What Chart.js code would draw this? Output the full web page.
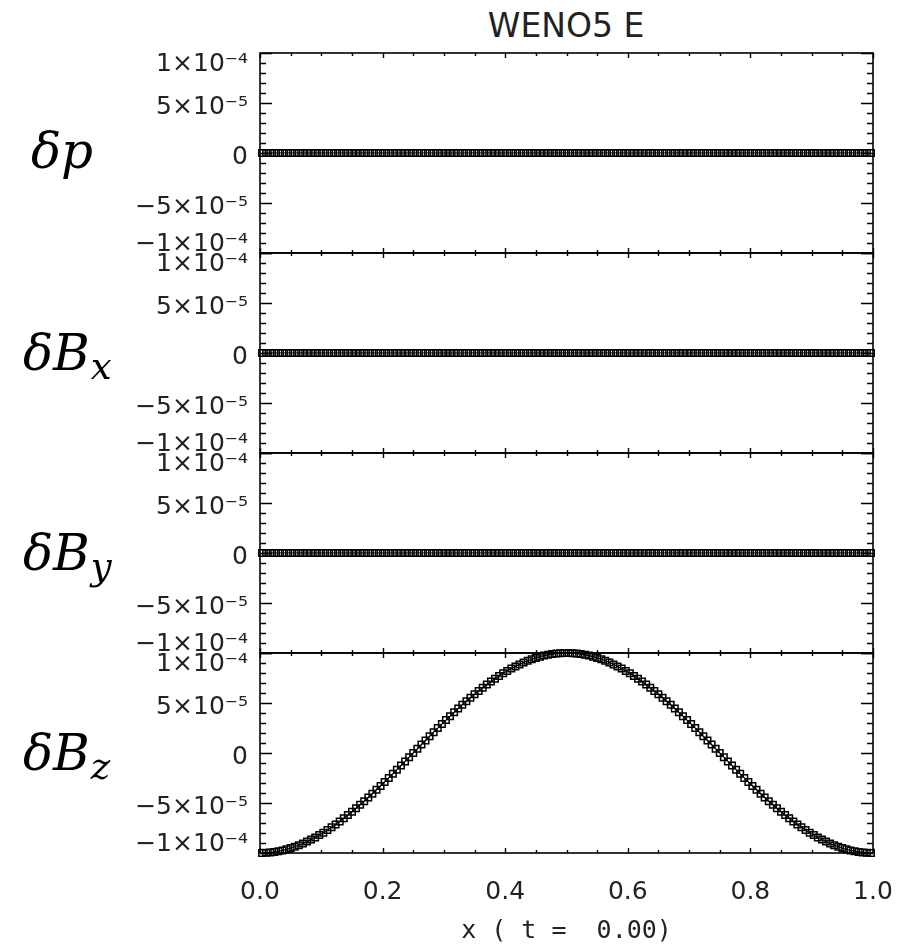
<!DOCTYPE html>
<html><head><meta charset="utf-8">
<script src="https://cdn.jsdelivr.net/npm/chart.js@4"></script>
<style>
html,body{margin:0;padding:0;background:#fff;}
#wrap{position:relative;width:907px;height:947px;overflow:hidden;background:#fff;}
canvas{position:absolute;left:0;}
.lab{position:absolute;font-family:"DejaVu Serif";font-style:italic;font-size:50px;line-height:50px;color:#000;white-space:nowrap;z-index:2;}
.lab sub{font-size:0.74em;vertical-align:-0.24em;line-height:0;margin-left:1px;}
#title{position:absolute;left:416px;width:300px;text-align:center;top:9px;font-family:"DejaVu Sans";font-size:33px;line-height:33px;color:#222;white-space:nowrap;}
</style></head>
<body><div id="wrap">
<div id="title">WENO5 E</div>
<canvas id="c0" width="960" height="275" style="top:23px"></canvas>
<canvas id="c1" width="960" height="275" style="top:223px"></canvas>
<canvas id="c2" width="960" height="275" style="top:423px"></canvas>
<canvas id="c3" width="960" height="324" style="top:623px"></canvas>
<div class="lab" style="left:31px;top:126px">δp</div>
<div class="lab" style="left:23px;top:328px">δB<sub>x</sub></div>
<div class="lab" style="left:23px;top:528px">δB<sub>y</sub></div>
<div class="lab" style="left:23px;top:728px">δB<sub>z</sub></div>
</div>
<script>
// ---- data (x positions of the grid cells) ----
const xValues = [
0.0033,0.01,0.0167,0.0233,0.03,0.0367,0.0433,0.05,0.0567,0.0633,0.07,0.0767,0.0833,0.09,0.0967,
0.1033,0.11,0.1167,0.1233,0.13,0.1367,0.1433,0.15,0.1567,0.1633,0.17,0.1767,0.1833,0.19,0.1967,
0.2033,0.21,0.2167,0.2233,0.23,0.2367,0.2433,0.25,0.2567,0.2633,0.27,0.2767,0.2833,0.29,0.2967,
0.3033,0.31,0.3167,0.3233,0.33,0.3367,0.3433,0.35,0.3567,0.3633,0.37,0.3767,0.3833,0.39,0.3967,
0.4033,0.41,0.4167,0.4233,0.43,0.4367,0.4433,0.45,0.4567,0.4633,0.47,0.4767,0.4833,0.49,0.4967,
0.5033,0.51,0.5167,0.5233,0.53,0.5367,0.5433,0.55,0.5567,0.5633,0.57,0.5767,0.5833,0.59,0.5967,
0.6033,0.61,0.6167,0.6233,0.63,0.6367,0.6433,0.65,0.6567,0.6633,0.67,0.6767,0.6833,0.69,0.6967,
0.7033,0.71,0.7167,0.7233,0.73,0.7367,0.7433,0.75,0.7567,0.7633,0.77,0.7767,0.7833,0.79,0.7967,
0.8033,0.81,0.8167,0.8233,0.83,0.8367,0.8433,0.85,0.8567,0.8633,0.87,0.8767,0.8833,0.89,0.8967,
0.9033,0.91,0.9167,0.9233,0.93,0.9367,0.9433,0.95,0.9567,0.9633,0.97,0.9767,0.9833,0.99,0.9967
];
const dpValues = [
0,0,0,0,0,0,0,0,0,0,0,0,0,0,0,0,0,0,0,0,0,0,0,0,0,0,0,0,0,0,
0,0,0,0,0,0,0,0,0,0,0,0,0,0,0,0,0,0,0,0,0,0,0,0,0,0,0,0,0,0,
0,0,0,0,0,0,0,0,0,0,0,0,0,0,0,0,0,0,0,0,0,0,0,0,0,0,0,0,0,0,
0,0,0,0,0,0,0,0,0,0,0,0,0,0,0,0,0,0,0,0,0,0,0,0,0,0,0,0,0,0,
0,0,0,0,0,0,0,0,0,0,0,0,0,0,0,0,0,0,0,0,0,0,0,0,0,0,0,0,0,0
];
const dBxValues = [
0,0,0,0,0,0,0,0,0,0,0,0,0,0,0,0,0,0,0,0,0,0,0,0,0,0,0,0,0,0,
0,0,0,0,0,0,0,0,0,0,0,0,0,0,0,0,0,0,0,0,0,0,0,0,0,0,0,0,0,0,
0,0,0,0,0,0,0,0,0,0,0,0,0,0,0,0,0,0,0,0,0,0,0,0,0,0,0,0,0,0,
0,0,0,0,0,0,0,0,0,0,0,0,0,0,0,0,0,0,0,0,0,0,0,0,0,0,0,0,0,0,
0,0,0,0,0,0,0,0,0,0,0,0,0,0,0,0,0,0,0,0,0,0,0,0,0,0,0,0,0,0
];
const dByValues = [
0,0,0,0,0,0,0,0,0,0,0,0,0,0,0,0,0,0,0,0,0,0,0,0,0,0,0,0,0,0,
0,0,0,0,0,0,0,0,0,0,0,0,0,0,0,0,0,0,0,0,0,0,0,0,0,0,0,0,0,0,
0,0,0,0,0,0,0,0,0,0,0,0,0,0,0,0,0,0,0,0,0,0,0,0,0,0,0,0,0,0,
0,0,0,0,0,0,0,0,0,0,0,0,0,0,0,0,0,0,0,0,0,0,0,0,0,0,0,0,0,0,
0,0,0,0,0,0,0,0,0,0,0,0,0,0,0,0,0,0,0,0,0,0,0,0,0,0,0,0,0,0
];
const dBzValues = [
-1.000e-4,-9.98e-5,-9.95e-5,-9.89e-5,-9.82e-5,-9.74e-5,-9.63e-5,-9.51e-5,-9.37e-5,-9.22e-5,
-9.05e-5,-8.86e-5,-8.66e-5,-8.44e-5,-8.21e-5,-7.97e-5,-7.71e-5,-7.43e-5,-7.14e-5,-6.85e-5,
-6.53e-5,-6.21e-5,-5.88e-5,-5.53e-5,-5.18e-5,-4.82e-5,-4.45e-5,-4.07e-5,-3.68e-5,-3.29e-5,
-2.89e-5,-2.49e-5,-2.08e-5,-1.67e-5,-1.25e-5,-8.4e-6,-4.2e-6,0,
4.2e-6,8.4e-6,1.25e-5,1.67e-5,2.08e-5,2.49e-5,2.89e-5,3.29e-5,3.68e-5,4.07e-5,
4.45e-5,4.82e-5,5.18e-5,5.53e-5,5.88e-5,6.21e-5,6.53e-5,6.85e-5,7.14e-5,7.43e-5,
7.71e-5,7.97e-5,8.21e-5,8.44e-5,8.66e-5,8.86e-5,9.05e-5,9.22e-5,9.37e-5,9.51e-5,
9.63e-5,9.74e-5,9.82e-5,9.89e-5,9.95e-5,9.98e-5,1.000e-4,
1.000e-4,9.98e-5,9.95e-5,9.89e-5,9.82e-5,9.74e-5,9.63e-5,9.51e-5,9.37e-5,9.22e-5,
9.05e-5,8.86e-5,8.66e-5,8.44e-5,8.21e-5,7.97e-5,7.71e-5,7.43e-5,7.14e-5,6.85e-5,
6.53e-5,6.21e-5,5.88e-5,5.53e-5,5.18e-5,4.82e-5,4.45e-5,4.07e-5,3.68e-5,3.29e-5,
2.89e-5,2.49e-5,2.08e-5,1.67e-5,1.25e-5,8.4e-6,4.2e-6,
0,-4.2e-6,-8.4e-6,-1.25e-5,-1.67e-5,-2.08e-5,-2.49e-5,-2.89e-5,-3.29e-5,-3.68e-5,
-4.07e-5,-4.45e-5,-4.82e-5,-5.18e-5,-5.53e-5,-5.88e-5,-6.21e-5,-6.53e-5,-6.85e-5,-7.14e-5,
-7.43e-5,-7.71e-5,-7.97e-5,-8.21e-5,-8.44e-5,-8.66e-5,-8.86e-5,-9.05e-5,-9.22e-5,-9.37e-5,
-9.51e-5,-9.63e-5,-9.74e-5,-9.82e-5,-9.89e-5,-9.95e-5,-9.98e-5,-1.000e-4
];
// ---- tick values / labels ----
const xTickValues = [0, 0.2, 0.4, 0.6, 0.8, 1.0];
const xTickLabels = ['0.0', '0.2', '0.4', '0.6', '0.8', '1.0'];
const yTickValues = [-1e-4, -5e-5, 0, 5e-5, 1e-4];
const yTickLabels = ['\u22121\u00d710\u207b\u2074', '\u22125\u00d710\u207b\u2075', '0', '5\u00d710\u207b\u2075', '1\u00d710\u207b\u2074'];
const xTitle = 'x ( t =  0.00)';
const xMinorStep = 0.05, yMinorStep = 1e-5;

const panelSeries = [dpValues, dBxValues, dByValues, dBzValues];

const tickFont = {family: 'DejaVu Sans', size: 25};
const ink = '#000';
const lastY = yTickValues.length - 1;

const idlFrame = {
  id: 'idlFrame',
  afterDatasetsDraw(chart) {
    const {ctx, chartArea: a, scales} = chart;
    const xs = scales.x, ys = scales.y;
    ctx.save();
    ctx.strokeStyle = ink;
    ctx.lineWidth = 1.6;
    ctx.strokeRect(a.left, a.top, a.right - a.left, a.bottom - a.top);
    ctx.lineWidth = 1.4;
    ctx.beginPath();
    const nx = Math.round((xs.max - xs.min) / xMinorStep);
    for (let k = 0; k <= nx; k++) {
      const px = Math.round(xs.getPixelForValue(xs.min + k * xMinorStep)) + 0.5;
      const len = (k % 4 === 0) ? 5 : 3;
      ctx.moveTo(px, a.bottom); ctx.lineTo(px, a.bottom - len);
      ctx.moveTo(px, a.top); ctx.lineTo(px, a.top + len);
    }
    const ny = Math.round((ys.max - ys.min) / yMinorStep);
    for (let k = 0; k <= ny; k++) {
      const py = Math.round(ys.getPixelForValue(ys.min + k * yMinorStep)) + 0.5;
      const len = (k % 5 === 0) ? 12 : 6;
      ctx.moveTo(a.left, py); ctx.lineTo(a.left + len, py);
      ctx.moveTo(a.right, py); ctx.lineTo(a.right - len, py);
    }
    ctx.stroke();
    ctx.restore();
  }
};

function makePanel(id, values, isBottom) {
  const data = xValues.map((x, i) => ({x: x, y: values[i]}));
  return new Chart(document.getElementById(id), {
    type: 'line',
    data: {datasets: [{
      data: data,
      borderColor: ink,
      borderWidth: 1.2,
      pointStyle: 'rect',
      pointRadius: 4.6,
      pointBorderWidth: 1.5,
      pointBorderColor: ink,
      pointBackgroundColor: 'rgba(0,0,0,0)',
      tension: 0,
      clip: 4
    }]},
    options: {
      responsive: false,
      animation: false,
      devicePixelRatio: 1,
      layout: {padding: {left: 0, right: 87, top: 30, bottom: isBottom ? 0 : 45}},
      plugins: {legend: {display: false}, tooltip: {enabled: false}, title: {display: false}},
      scales: {
        x: {
          type: 'linear', min: 0, max: 1,
          display: isBottom,
          grid: {display: false, drawTicks: false},
          border: {display: false},
          afterBuildTicks: s => { s.ticks = xTickValues.map(v => ({value: v})); },
          afterFit: s => { if (isBottom) s.height = 94; },
          ticks: {
            font: tickFont, color: '#222', padding: 24, maxRotation: 0, autoSkip: false,
            callback: (v, i) => xTickLabels[i]
          },
          title: {display: isBottom, text: xTitle, color: '#222',
                  font: {family: 'DejaVu Sans Mono', size: 25}, padding: {top: 0, bottom: 1}}
        },
        y: {
          type: 'linear', min: -1e-4, max: 1e-4,
          grid: {display: false, drawTicks: false},
          border: {display: false},
          afterBuildTicks: s => { s.ticks = yTickValues.map(v => ({value: v})); },
          afterFit: s => { s.width = 260; },
          ticks: {
            color: '#222', padding: 12, autoSkip: false, labelOffset: 4,
            font: ctx => {
              if (ctx.index === lastY) return {family: 'DejaVu Sans', size: 25, lineHeight: 0.56};
              if (ctx.index === 0) return {family: 'DejaVu Sans', size: 25, lineHeight: 1.04};
              return tickFont;
            },
            callback: (v, i) => {
              if (i === lastY) return ['', yTickLabels[i]];
              if (i === 0) return [yTickLabels[i], ''];
              return yTickLabels[i];
            }
          }
        }
      }
    },
    plugins: [idlFrame]
  });
}

panelSeries.forEach((vals, i) => makePanel('c' + i, vals, i === 3));
</script>
</body></html>
